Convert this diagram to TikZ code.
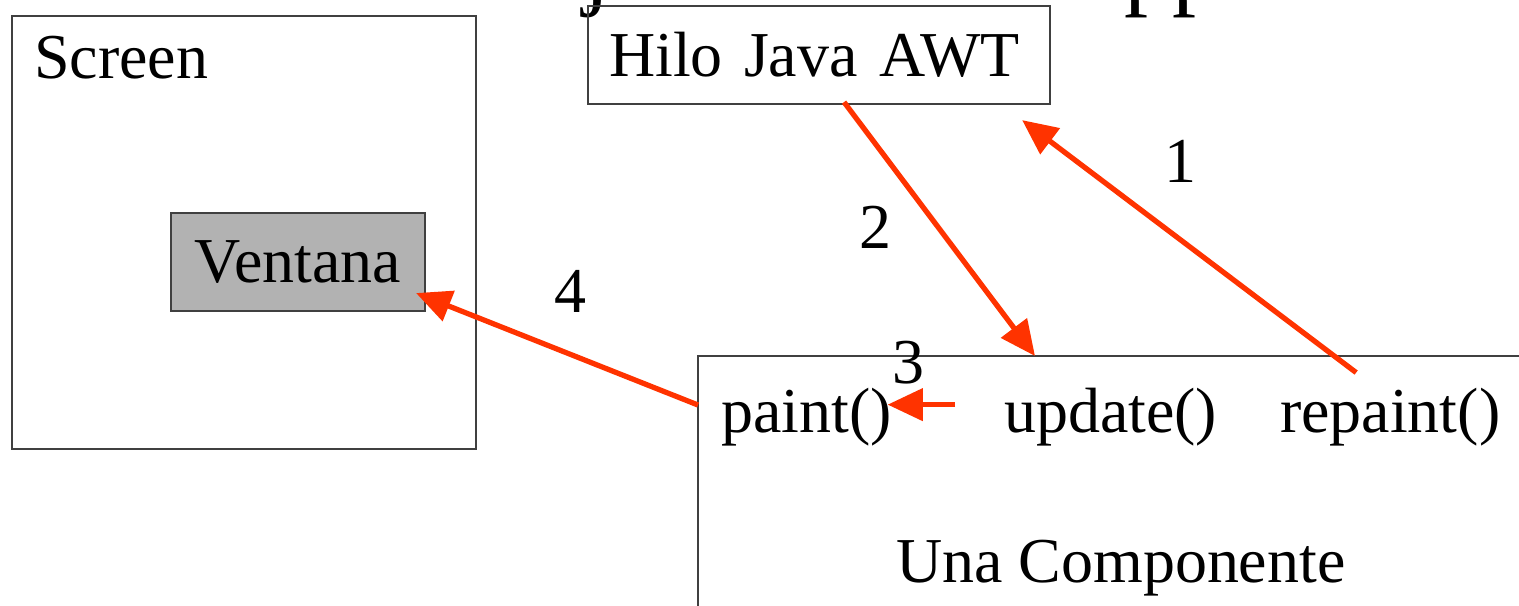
\documentclass[tikz,border=0pt]{standalone}
\usepackage{fontspec}
\setmainfont{Liberation Serif}
\usetikzlibrary{arrows.meta,positioning}
\definecolor{flecha}{HTML}{FF3300}

\begin{document}
\begin{tikzpicture}[>={Triangle[length=10pt,width=9pt]}, line width=0.6pt,
    caja/.style={draw=black!75, line width=0.6pt, inner sep=0pt},
    txt/.style={font=\fontsize{18.2}{20}\selectfont, inner sep=0pt},
    flechas/.style={->, draw=flecha, line width=1.5pt}]
    \path[use as bounding box] (0,0) rectangle (15.19,-6.05);
    \clip (0,0) rectangle (15.19,-6.05);

    % title, cut by the top edge
    \node[font=\fontsize{27.3}{30}\selectfont, inner sep=0pt, anchor=base west] (titulo) at (3.91,0.025) {Dibujando en un Applet};

    % screen and window
    \node[caja, minimum width=4.64cm, minimum height=4.33cm, anchor=north west] (screen) at (0.11,-0.15) {};
    \node[txt, anchor=base west] (screenlbl) at (0.33,-0.78) {Screen};
    \node[caja, txt, fill=black!30, minimum width=2.54cm, minimum height=0.98cm] (ventana) at (2.98,-2.62) {Ventana};

    % AWT thread
    \node[caja, txt, text width=4.20cm, align=left, inner xsep=0.21cm, minimum height=0.98cm, anchor=north west] (hilo) at (5.87,-0.05) {Hilo Java AWT};

    % the component (runs off the page)
    \coordinate (C) at (6.98,-3.56);
    \draw[draw=black!75] (6.98,-6.3) -- (C) -- (15.4,-3.56);
    \node[txt, anchor=base west] (paint) at (7.20,-4.32) {paint()};
    \node[txt, anchor=base west] (update) at (10.03,-4.32) {update()};
    \node[txt, anchor=base west] (repaint) at (12.79,-4.32) {repaint()};
    \node[txt, anchor=base west] (una) at (8.95,-5.82) {Una Componente};

    % calls
    \draw[flechas] ([shift={(-0.34,0.14)}]repaint.north) -- ([shift={(-0.29,-0.15)}]hilo.south east);
    \draw[flechas] ([shift={(0.25,0.03)}]hilo.south) -- ([xshift=3.37cm]C);
    \draw[flechas] ([shift={(-0.48,0.12)}]update.west) -- ([shift={(-0.05,0.12)}]paint.east);
    \draw[flechas] ([yshift=-0.49cm]C) -- ([shift={(-0.10,0.19)}]ventana.south east);

    \node[txt, anchor=base] (n1) at (11.80,-1.82) {1};
    \node[txt, anchor=base] (n2) at (8.75,-2.48) {2};
    \node[txt, anchor=base] (n3) at (9.08,-3.83) {3};
    \node[txt, anchor=base] (n4) at (5.70,-3.12) {4};
\end{tikzpicture}
\end{document}
